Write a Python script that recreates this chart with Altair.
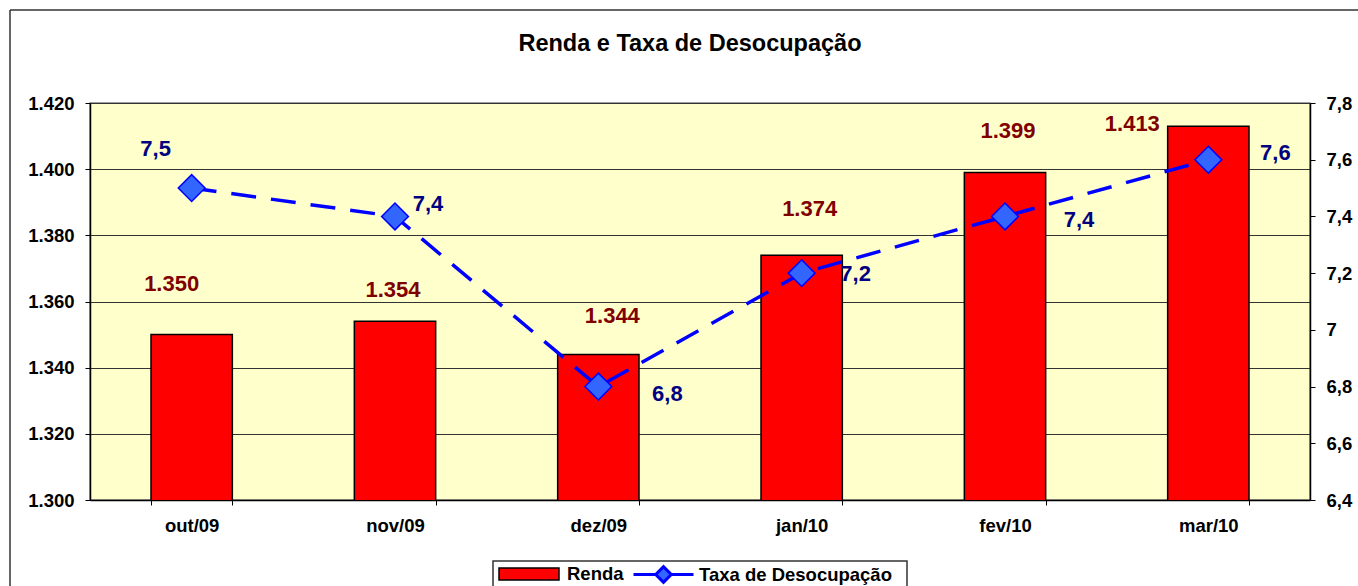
import altair as alt
import pandas as pd

# ---- data ----
meses = ["out/09", "nov/09", "dez/09", "jan/10", "fev/10", "mar/10"]
renda = [1350, 1354, 1344, 1374, 1399, 1413]
taxa = [7.5, 7.4, 6.8, 7.2, 7.4, 7.6]
renda_ticks = [1300, 1320, 1340, 1360, 1380, 1400, 1420]
taxa_ticks = [6.4, 6.6, 6.8, 7.0, 7.2, 7.4, 7.6, 7.8]

# manual label placement (pixel offsets, as dragged in the original)
renda_lab_dx = [-20, -2, 14, 8, 3, -76]
renda_lab_dy = [-51, -31, -38, -46, -41, -2]
taxa_lab_dx = [-36, 33, 69, 54, 74, 67]
taxa_lab_dy = [-39, -12, 7, 1, 4, -7]

FONT = "Liberation Sans"
AX_FS = 18.5

df = pd.DataFrame({"mes": meses, "renda": renda, "taxa": taxa})
df["serie_r"] = "Renda"
df["serie_t"] = "Taxa de Desocupação"

base = alt.Chart(df)

x_enc = alt.X(
    "mes:N",
    sort=meses,
    scale=alt.Scale(paddingInner=0.6, paddingOuter=0.3),
    axis=alt.Axis(
        title=None, labelAngle=0, tickBand="extent", labelFont=FONT,
        labelFontSize=AX_FS, labelFontWeight="bold", labelColor="black",
        tickColor="black", tickSize=5, domainColor="black", domainWidth=1.5,
        labelPadding=11, grid=False,
    ),
)

y_left = alt.Y(
    "renda:Q",
    scale=alt.Scale(domain=[1300, 1420], zero=False, nice=False),
    axis=alt.Axis(
        title=None, orient="left", values=renda_ticks,
        labelExpr="replace(format(datum.value, ',.0f'), ',', '.')",
        labelFont=FONT, labelFontSize=AX_FS, labelFontWeight="bold",
        labelColor="black", tickColor="black", tickSize=5, labelPadding=11,
        domainColor="black", domainWidth=1.5, grid=True,
        gridColor="#333333", gridWidth=1,
    ),
)

y_right = alt.Y(
    "taxa:Q",
    scale=alt.Scale(domain=[6.4, 7.8], zero=False, nice=False),
    axis=alt.Axis(
        title=None, orient="right", values=taxa_ticks,
        labelExpr="replace(format(datum.value, '.1~f'), '.', ',')",
        labelFont=FONT, labelFontSize=AX_FS, labelFontWeight="bold",
        labelColor="black", tickColor="black", tickSize=5, labelPadding=11,
        domainColor="black", domainWidth=1.5, grid=False,
    ),
)

bars = base.mark_bar(stroke="black", strokeWidth=1.5, clip=True).encode(
    x=x_enc,
    y=y_left,
    color=alt.Color(
        "serie_r:N",
        scale=alt.Scale(domain=["Renda"], range=["#FF0000"]),
        legend=alt.Legend(
            title=None, orient="none", legendX=408, legendY=440, padding=0,
            symbolType="M-1,-0.2H1V0.2H-1Z",
            symbolSize=3600, symbolStrokeColor="black", symbolStrokeWidth=1.5,
            symbolOpacity=1, labelFont=FONT, labelFontSize=AX_FS,
            labelFontWeight="bold", labelColor="black", labelOffset=7,
            labelLimit=300,
        ),
    ),
)

renda_labels = []
for m, dx, dy in zip(meses, renda_lab_dx, renda_lab_dy):
    renda_labels.append(
        base.transform_filter(alt.datum.mes == m)
        .transform_calculate(
            lab="replace(format(datum.renda, ',.0f'), ',', '.')"
        )
        .mark_text(
            font=FONT, fontSize=22, fontWeight="bold", color="#800000",
            dx=dx, dy=dy, baseline="middle", align="center",
        )
        .encode(x=alt.X("mes:N", sort=meses), y="renda:Q", text="lab:N")
    )

# chart frame and legend box (decoration, in pixels relative to plot area)
frame = alt.Chart(alt.Data(values=[{}]))
frame_top = frame.mark_rule(color="#333333", strokeWidth=1.5).encode(
    x=alt.value(-80), x2=alt.value(1270), y=alt.value(-93)
)
frame_left = frame.mark_rule(color="#333333", strokeWidth=1.5).encode(
    x=alt.value(-80), y=alt.value(-93), y2=alt.value(490)
)
legend_box = frame.mark_rect(
    fill="white", stroke="#333333", strokeWidth=1.5
).encode(
    x=alt.value(403), x2=alt.value(817), y=alt.value(458), y2=alt.value(495)
)

left = alt.layer(frame_top, frame_left, legend_box, bars, *renda_labels)

line = base.mark_line(
    strokeWidth=3.5, strokeDash=[25, 15]
).encode(
    x=alt.X("mes:N", sort=meses),
    y=y_right,
    stroke=alt.Stroke(
        "serie_t:N",
        scale=alt.Scale(domain=["Taxa de Desocupação"], range=["#0000FF"]),
        legend=alt.Legend(
            title=None, orient="none", legendX=542, legendY=440, padding=0,
            symbolType="M-1,0H-0.26M0.26,0H1M-0.26,0L0,-0.26L0.26,0L0,0.26Z",
            symbolSize=3600, symbolStrokeWidth=3, symbolFillColor="#3366FF",
            labelFont=FONT, labelFontSize=AX_FS, labelFontWeight="bold",
            labelColor="black", labelOffset=4, labelLimit=300,
        ),
    ),
)

points = base.mark_point(
    shape="diamond", filled=True, size=720, fill="#3366FF",
    stroke="#0000FF", strokeWidth=1.5, opacity=1,
).encode(x=alt.X("mes:N", sort=meses), y="taxa:Q")

taxa_labels = []
for m, dx, dy in zip(meses, taxa_lab_dx, taxa_lab_dy):
    taxa_labels.append(
        base.transform_filter(alt.datum.mes == m)
        .transform_calculate(
            lab="replace(format(datum.taxa, '.1~f'), '.', ',')"
        )
        .mark_text(
            font=FONT, fontSize=22, fontWeight="bold", color="#000080",
            dx=dx, dy=dy, baseline="middle", align="center",
        )
        .encode(x=alt.X("mes:N", sort=meses), y="taxa:Q", text="lab:N")
    )

right = alt.layer(line, points, *taxa_labels)

chart = (
    alt.layer(left, right)
    .resolve_scale(y="independent", color="independent")
    .properties(
        width=1220,
        height=397,
        title=alt.TitleParams(
            "Renda e Taxa de Desocupação", font=FONT, fontSize=23.5,
            fontWeight="bold", color="black", anchor="middle", offset=0,
            dx=-10, dy=46,
        ),
        autosize=alt.AutoSizeParams(type="none"),
        padding={"left": 90, "top": 103, "right": 48, "bottom": 86},
        background="white",
    )
    .configure_view(fill="#FFFFCC", stroke="#808080", strokeWidth=1.5)
)

chart.save("out.html", embed_options={"renderer": "svg", "actions": False})
